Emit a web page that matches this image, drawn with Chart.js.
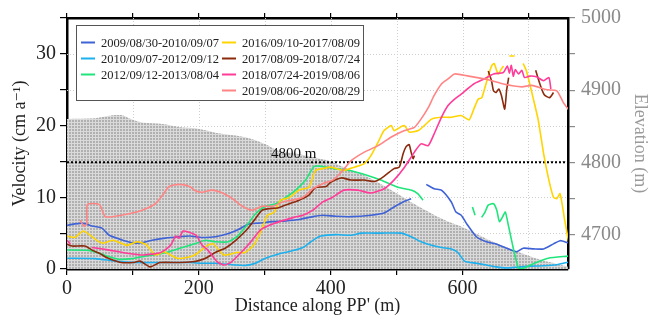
<!DOCTYPE html>
<html>
<head>
<meta charset="utf-8">
<style>
  html, body { margin: 0; padding: 0; background: #fff; }
  canvas { display: block; }
</style>
<script src="https://cdn.jsdelivr.net/npm/chart.js@4.4.1/dist/chart.umd.min.js"></script>
</head>
<body>
<canvas id="velChart" width="649" height="324"></canvas>
<script>
// distance along PP' (m) and velocity (cm/a) for each period
const labels = [
  "2009/08/30-2010/09/07", "2010/09/07-2012/09/12", "2012/09/12-2013/08/04",
  "2016/09/10-2017/08/09", "2017/08/09-2018/07/24", "2018/07/24-2019/08/06",
  "2019/08/06-2020/08/29"
];
const colors = ["#3f63d6", "#1cb0ee", "#1fe57a", "#ffd400", "#8b2a0c", "#ff3c98", "#ff8585"];

const d09 = [0,23,38,53,64,79,99,114,129,149,170,186,205,225,245,260,275,291,312,332,352,373,388,408,431,461,481,496,510,522,533,545,557,568,583,590,598,606,621,636,651,667,682,692,708,723,738,748,760];
const v09 = [6.1,6.4,6.0,5.7,4.7,4.2,3.65,3.65,4.0,4.3,4.5,4.6,4.4,4.5,4.95,5.5,6.25,6.4,6.6,6.7,6.9,7.3,7.5,7.35,7.3,7.5,7.8,8.65,9.35,9.8,null,11.8,11.2,11.0,9.35,7.95,7.5,6.35,4.5,3.8,3.5,2.9,2.4,2.9,2.8,2.8,3.5,3.95,3.65];

const d10 = [0,43,73,103,145,186,205,225,256,271,286,301,321,342,358,373,385,408,431,446,476,507,522,537,553,568,583,593,603,621,636,651,667,682,702,723,743,760];
const v10 = [1.5,1.45,1.1,0.9,0.9,0.9,0.8,0.8,0.55,0.5,0.8,1.5,2.1,2.55,3.0,4.0,4.6,4.8,4.7,5.0,5.0,5.0,4.5,3.8,3.3,3.0,2.8,2.3,1.1,0.8,0.55,0.3,0.15,0.25,0.4,0.45,0.6,0.95];

const d12 = [0,33,49,64,79,99,119,140,155,175,195,210,225,245,260,275,286,301,317,332,347,362,375,388,405,431,456,476,502,522,532,540,578,615,619,624,629,634,639,647,652,656,662,665,670,677,685,692,709,730,760];
const v12 = [2.65,2.6,2.2,1.7,1.35,1.45,1.8,2.1,2.4,3.0,3.55,4.0,3.8,3.8,4.7,6.35,7.7,8.75,9.1,10.0,11.0,12.4,14.3,14.3,14.0,13.7,13.05,12.4,11.4,11.0,10.5,9.6,null,8.65,7.5,null,7.2,7.9,8.9,9.1,8.2,6.6,7.5,7.95,5.9,2.9,0.1,0.1,0.8,1.5,1.8];

const d16 = [0,12,25,45,55,70,91,106,120,134,147,167,187,198,213,222,238,258,270,283,294,304,314,324,337,352,367,377,388,400,420,436,451,461,472,481,492,496,507,512,519,533,542,553,568,583,598,610,618,624,629,634,639,644,648,654,659,662,666,671,679,685,692,697,708,715,723,731,738,743,748,755,761];
const v16 = [4.6,4.4,5.3,4.0,3.6,4.0,3.3,3.8,3.4,1.95,2.4,1.5,1.7,2.2,3.3,3.5,1.95,2.3,2.3,3.3,5.2,7.5,7.9,9.6,9.95,11.0,11.4,13.75,14.0,14.2,13.75,14.2,14.7,15.8,17.7,19.3,20.0,19.3,19.85,20.0,19.1,19.3,20.0,20.9,21.15,21.15,21.4,20.8,22.5,23.7,23.85,25.3,26.9,28.3,28.65,27.2,27.9,28.3,null,29.7,29.7,null,28.65,27.6,23.5,20.7,16.1,12.4,10.0,9.8,10.5,6.8,3.8];

const d17 = [0,8,27,39,49,60,80,100,111,126,141,171,190,201,210,227,240,256,273,286,296,306,321,337,352,367,377,393,400,416,431,451,466,476,486,496,504,510,514,519,522,525,527,580,639,644,647,651,655,659,664,667,670,690,711,717,724,732,738];
const v17 = [3.45,3.2,3.2,2.6,2.2,1.6,0.95,0.9,1.1,0.3,0.9,0.9,1.0,1.2,1.5,2.4,2.9,4.0,5.5,7.05,8.2,8.4,8.55,9.1,9.6,10.3,11.35,11.5,12.1,12.7,12.4,12.4,12.2,12.6,13.3,14.0,14.2,16.1,17.0,17.35,16.3,15.4,15.8,null,27.6,26.25,24.85,24.6,25.1,24.2,22.3,25.0,26.7,null,27.7,25.9,24.3,23.9,24.6];

const d18 = [0,5,12,38,60,91,116,142,157,165,170,176,186,196,205,213,228,238,248,263,279,294,314,344,358,373,388,403,420,441,461,481,496,512,527,537,548,557,568,578,588,598,617,633,647,662,668,671,674,677,680,685,690,694,702,712,723,731,734];
const v18 = [4.0,3.5,null,3.0,2.7,2.2,1.95,2.3,3.3,4.6,4.3,5.3,5.1,4.7,3.3,2.7,1.0,0.55,0.9,2.2,3.8,5.5,6.35,7.2,7.5,8.2,9.35,10.0,11.0,11.0,10.6,11.2,12.4,14.2,16.3,17.45,17.2,18.85,21.15,22.8,23.7,24.4,25.8,26.5,27.2,27.4,28.3,27.3,28.4,26.9,27.8,27.2,27.7,26.7,26.9,26.8,26.25,26.7,25.1];

const d19 = [20,26,30,31,49,58,73,94,114,134,145,155,170,186,195,205,220,236,251,266,281,296,312,327,342,358,373,388,403,416,431,451,472,492,512,527,537,548,557,568,578,588,609,639,662,690,705,728,743,753,761];
const v19 = [6.8,5.95,6.3,9.0,9.0,7.3,7.35,7.7,8.2,9.1,10.3,11.5,11.8,11.5,10.9,10.7,11.0,10.6,9.8,8.75,8.2,8.75,8.75,9.35,9.6,10.0,11.2,11.9,12.4,13.5,15.1,16.3,17.2,18.4,19.3,19.75,20.9,22.5,24.2,25.8,26.5,27.2,26.9,26.4,25.8,25.4,25.6,25.0,24.85,23.2,22.2];

// surface elevation profile (m)
const dElev = [0,43,69,84,94,114,145,170,195,225,256,281,301,321,347,373,397,420,451,476,502,527,557,578,598,621,641,667,692,717,743,761];
const elev = [4860,4861,4865,4865,4861,4855,4853,4849,4847,4841,4837,4832,4825,4816,4812,4807,4802,4793,4782,4770,4756,4742,4727,4718,4711,4701,4692,4682,4673,4665,4659,4655];

const refElev = 4800;
const elevTicks = [4700, 4750, 4800, 4850, 4900, 4950, 5000];
const distSeries = [d09, d10, d12, d16, d17, d18, d19];
const velSeries = [v09, v10, v12, v16, v17, v18, v19];

const pts = (xs, ys) => xs.map((x, i) => ({ x: x, y: ys[i] }));

const SERIF = '"Liberation Serif", "DejaVu Serif", serif';

function hatch() {
  const c = document.createElement('canvas');
  c.width = 3; c.height = 3;
  const g = c.getContext('2d');
  g.fillStyle = '#b0b0b0';
  g.fillRect(0, 0, 3, 3);
  g.fillStyle = '#dadada';
  g.fillRect(0, 2, 3, 1);
  g.fillRect(2, 0, 1, 3);
  return g.createPattern(c, 'repeat');
}

const lineSets = labels.map((lab, i) => ({
  label: lab,
  data: pts(distSeries[i], velSeries[i]),
  borderColor: colors[i],
  borderWidth: 1.6,
  pointRadius: 0,
  tension: 0.2,
  fill: false,
  yAxisID: 'y',
  order: 6 - i
}));

const dottedGrid = {
  id: 'dottedGrid',
  beforeDatasetsDraw(chart) {
    const { ctx, chartArea: a, scales } = chart;
    ctx.save();
    ctx.strokeStyle = '#cfcfcf';
    ctx.lineWidth = 1;
    ctx.setLineDash([1, 2]);
    for (let v = 100; v < 760; v += 100) {
      const x = Math.round(scales.x.getPixelForValue(v)) + 0.5;
      ctx.beginPath(); ctx.moveTo(x, a.top); ctx.lineTo(x, a.bottom); ctx.stroke();
    }
    for (let v = 5; v < 35; v += 5) {
      const y = Math.round(scales.y.getPixelForValue(v)) + 0.5;
      ctx.beginPath(); ctx.moveTo(a.left, y); ctx.lineTo(a.right, y); ctx.stroke();
    }
    ctx.restore();
  }
};

const boxLegend = {
  id: 'boxLegend',
  afterDatasetsDraw(chart) {
    const ctx = chart.ctx;
    const sx = chart.scales.x, sy = chart.scales.y2;
    ctx.save();
    // 4800 m label
    ctx.fillStyle = '#111';
    ctx.font = '15px ' + SERIF;
    ctx.textAlign = 'center';
    ctx.textBaseline = 'bottom';
    ctx.fillText(refElev + ' m', sx.getPixelForValue(344), sy.getPixelForValue(refElev) - 1);
    // legend box
    ctx.fillStyle = '#fff';
    ctx.fillRect(76.5, 25.5, 287, 75);
    ctx.strokeStyle = '#555';
    ctx.lineWidth = 1;
    ctx.strokeRect(76.5, 25.5, 287, 75);
    ctx.font = '12.5px ' + SERIF;
    ctx.textAlign = 'left';
    ctx.textBaseline = 'middle';
    chart.data.datasets.slice(0, labels.length).forEach((ds, i) => {
      const col = i < 3 ? 0 : 1;
      const row = i < 3 ? i : i - 3;
      const x = col ? 222 : 81;
      const y = 42.5 + row * 16;
      ctx.strokeStyle = ds.borderColor;
      ctx.lineWidth = 2;
      ctx.beginPath(); ctx.moveTo(x, y); ctx.lineTo(x + 14, y); ctx.stroke();
      ctx.fillStyle = '#222';
      ctx.fillText(ds.label, x + 20, y + 1);
    });
    ctx.restore();
  }
};

new Chart(document.getElementById('velChart').getContext('2d'), {
  type: 'line',
  data: {
    datasets: lineSets.concat([
      {
        label: 'ref',
        data: pts([0, 760], [refElev, refElev]),
        borderColor: '#000',
        borderWidth: 2,
        borderDash: [2, 2],
        pointRadius: 0,
        fill: false,
        yAxisID: 'y2',
        order: 7
      },
      {
        label: 'elevation',
        data: pts(dElev, elev),
        borderColor: 'rgba(0,0,0,0)',
        borderWidth: 0,
        backgroundColor: hatch(),
        pointRadius: 0,
        tension: 0.3,
        fill: 'start',
        yAxisID: 'y2',
        order: 8
      }
    ])
  },
  options: {
    responsive: false,
    animation: false,
    events: [],
    devicePixelRatio: 1,
    layout: { padding: 0 },
    plugins: {
      legend: { display: false },
      tooltip: { enabled: false }
    },
    scales: {
      x: {
        type: 'linear',
        position: 'bottom',
        min: 0,
        max: 760,
        afterFit: s => { s.height = 55; },
        ticks: {
          stepSize: 100,
          padding: 2,
          color: '#222',
          font: { family: SERIF, size: 20 },
          maxRotation: 0,
          callback: v => (v % 200 === 0 ? v : (v % 100 === 0 ? '' : null))
        },
        grid: { drawOnChartArea: false, tickLength: 6, color: '#000', lineWidth: 1.2 },
        border: { color: '#000', width: 2.5 },
        title: {
          display: true,
          text: "Distance along PP' (m)",
          color: '#222',
          font: { family: SERIF, size: 18, lineHeight: 1 },
          padding: { top: 0, bottom: 9 }
        }
      },
      xTop: {
        type: 'linear',
        position: 'top',
        min: 0,
        max: 760,
        afterFit: s => { s.height = 17; },
        ticks: {
          display: false,
          stepSize: 100,
          callback: v => (v % 100 === 0 ? '' : null)
        },
        grid: { drawOnChartArea: false, tickLength: 5, color: '#000', lineWidth: 1.2 },
        border: { color: '#000', width: 2.5 }
      },
      y: {
        position: 'left',
        min: 0,
        max: 35,
        afterFit: s => { s.width = 67; },
        ticks: {
          stepSize: 5,
          padding: 4,
          color: '#222',
          font: { family: SERIF, size: 20 },
          callback: v => (v % 10 === 0 ? v : '')
        },
        grid: { drawOnChartArea: false, tickLength: 7, color: '#000', lineWidth: 1.2 },
        border: { color: '#000', width: 2.5 },
        title: {
          display: true,
          text: 'Velocity (cm a⁻¹)',
          color: '#222',
          font: { family: SERIF, size: 18, lineHeight: 1 },
          padding: { top: 11, bottom: 0 }
        }
      },
      y2: {
        position: 'right',
        min: 4652,
        max: 5000,
        afterFit: s => { s.width = 81; },
        afterBuildTicks: s => { s.ticks = elevTicks.map(v => ({ value: v })); },
        ticks: {
          padding: 6,
          color: '#8a8a8a',
          font: { family: SERIF, size: 20 },
          callback: v => (v % 100 === 0 ? v : '')
        },
        grid: { drawOnChartArea: false, tickLength: 7, color: '#8a8a8a', lineWidth: 1.2 },
        border: { color: '#000', width: 2.5 },
        title: {
          display: true,
          text: 'Elevation (m)',
          color: '#9a9a9a',
          font: { family: SERIF, size: 18, lineHeight: 1 },
          padding: { top: 0, bottom: 0 }
        }
      }
    }
  },
  plugins: [dottedGrid, boxLegend]
});
</script>
</body>
</html>
